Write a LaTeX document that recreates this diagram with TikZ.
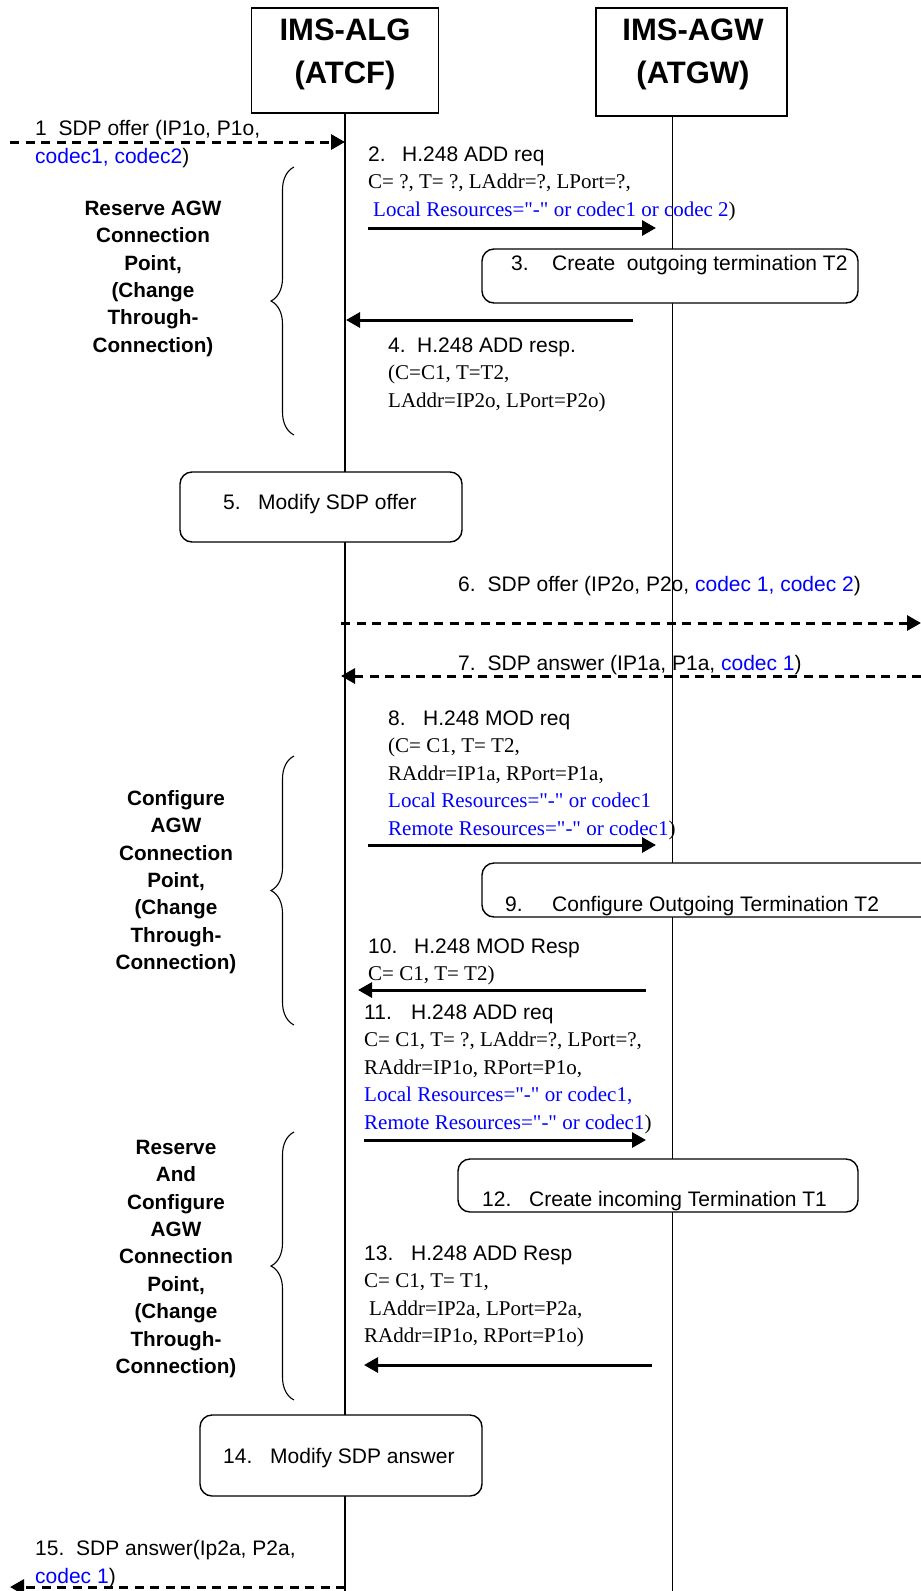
\documentclass[tikz,border=0pt]{standalone}
\usepackage{fontspec}
\setmainfont{Liberation Serif}[Ligatures=TeXOff]
\setsansfont{Liberation Sans}
\usetikzlibrary{arrows.meta,decorations.pathreplacing}

\newcommand{\msgno}[2][34pt]{\makebox[#1][l]{#2}}

\begin{document}
\begin{tikzpicture}[x=1pt, y=-1pt,
  life/.style={line width=1.1pt},
  hdr/.style={draw, line width=1.2pt, inner sep=0pt},
  hdrtext/.style={font=\sffamily\bfseries\fontsize{31}{43}\selectfont, align=center, inner sep=0pt, anchor=north},
  proc/.style={draw, line width=1.4pt, rounded corners=12pt, fill=white},
  msg/.style={font=\rmfamily\fontsize{21}{27.5}\selectfont, align=left, inner sep=0pt, anchor=north west},
  sig/.style={font=\sffamily\fontsize{21}{27.5}\selectfont, inner sep=0pt, anchor=base west},
  note/.style={font=\sffamily\bfseries\fontsize{20.7}{27.4}\selectfont, align=center, inner sep=0pt, anchor=north},
  req/.style={line width=3pt, -{Triangle[length=14pt,width=15pt]}},
  sdp/.style={req, dash pattern=on 9pt off 6.5pt},
  grp/.style={decorate, decoration={brace, amplitude=23pt}, line width=1.1pt}]
  \useasboundingbox (0,0) rectangle (921,1591);

  % Entities
  \node[hdr, minimum width=187pt, minimum height=105pt] (alg) at (345,60.5) {};
  \node[hdrtext] (algname) at (345,10) {\strut IMS-ALG\\(ATCF)};
  \node[hdr, minimum width=191pt, minimum height=108pt] (agw) at (691.5,62) {};
  \node[hdrtext] (agwname) at (693,10) {\strut IMS-AGW\\(ATGW)};

  % Lifelines
  \coordinate (algend) at (345,1591);
  \coordinate (agwend) at (672.5,1591);
  \draw[life] (alg.south) -- (algend);
  \draw[life] (agw.south -| agwend) -- (agwend);

  % Braces and their notes
  \coordinate (g1top) at (294,167);
  \coordinate (g1bot) at (294,435);
  \draw[grp] (g1bot) -- (g1top);
  \node[note] (g1txt) at (153,196) {\strut Reserve AGW\\Connection\\Point,\\(Change\\Through-\\Connection)};

  \coordinate (g2top) at (294,756);
  \coordinate (g2bot) at (294,1025);
  \draw[grp] (g2bot) -- (g2top);
  \node[note] (g2txt) at (176,786) {\strut Configure\\AGW\\Connection\\Point,\\(Change\\Through-\\Connection)};

  \coordinate (g3top) at (294,1132);
  \coordinate (g3bot) at (294,1400);
  \draw[grp] (g3bot) -- (g3top);
  \node[note] (g3txt) at (176,1135) {\strut Reserve\\And\\Configure\\AGW\\Connection\\Point,\\(Change\\Through-\\Connection)};

  % 1 SDP offer in
  \node[msg, font=\sffamily\fontsize{21}{28}\selectfont] (offer1) at (35,116) {\strut 1\ \ SDP offer (IP1o, P1o,\\\textcolor{blue}{codec1, codec2})};
  \coordinate (m1a) at (10,142);
  \coordinate (m1b) at (345,142);
  \draw[sdp] (m1a) -- (m1b);

  % 2 ADD req
  \node[msg] (addreq) at (368,142) {\strut{\sffamily\msgno[34pt]{2.}H.248 ADD req}\\
    C= ?, T= ?, LAddr=?, LPort=?,\\
    \hspace*{5pt}\textcolor{blue}{Local Resources="-" or codec1 or codec 2})};
  \coordinate (m2a) at (368,228);
  \coordinate (m2b) at (656,228);
  \draw[req] (m2a) -- (m2b);

  % 3 create outgoing termination
  \node[proc, minimum width=376pt, minimum height=54pt] (crt2) at (670,276) {};
  \node[sig] (crt2txt) at (511,270.5) {\msgno[41pt]{3.}Create\ \ outgoing termination T2};

  % 4 ADD resp
  \coordinate (m4a) at (633,320);
  \coordinate (m4b) at (346,320);
  \draw[req] (m4a) -- (m4b);
  \node[msg] (addresp) at (388,333) {\strut{\sffamily\msgno[29pt]{4.}H.248 ADD resp.}\\
    (C=C1, T=T2,\\
    LAddr=IP2o, LPort=P2o)};

  % 5 modify offer
  \node[proc, minimum width=282pt, minimum height=70pt] (modoffer) at (321,507) {};
  \node[sig] (modoffertxt) at (223,509.5) {\msgno[35pt]{5.}Modify SDP offer};

  % 6 SDP offer out
  \node[sig] (offer2) at (458,591.5) {\msgno[29.5pt]{6.}SDP offer (IP2o, P2o, \textcolor{blue}{codec 1, codec 2})};
  \coordinate (m6a) at (341,623);
  \coordinate (m6b) at (921,623);
  \draw[sdp] (m6a) -- (m6b);

  % 7 SDP answer in
  \node[sig] (answer1) at (458,670.5) {\msgno[29.5pt]{7.}SDP answer (IP1a, P1a, \textcolor{blue}{codec 1})};
  \coordinate (m7a) at (921,676);
  \coordinate (m7b) at (341,676);
  \draw[sdp] (m7a) -- (m7b);

  % 8 MOD req
  \node[msg] (modreq) at (388,706) {\strut{\sffamily\msgno[35pt]{8.}H.248 MOD req}\\
    (C= C1, T= T2,\\
    RAddr=IP1a, RPort=P1a,\\
    \textcolor{blue}{Local Resources="-" or codec1}\\
    \textcolor{blue}{Remote Resources="-" or codec1})};
  \coordinate (m8a) at (368,845);
  \coordinate (m8b) at (656,845);
  \draw[req] (m8a) -- (m8b);

  % 9 configure outgoing termination
  \node[proc, minimum width=453pt, minimum height=54pt] (cfg2) at (708.5,890) {};
  \node[sig] (cfg2txt) at (505,911.5) {\msgno[47pt]{9.}Configure Outgoing Termination T2};

  % 10 MOD resp
  \node[msg] (modresp) at (368,934) {\strut{\sffamily\msgno[46pt]{10.}H.248 MOD Resp}\\
    C= C1, T= T2)};
  \coordinate (m10a) at (646,990);
  \coordinate (m10b) at (358,990);
  \draw[req] (m10a) -- (m10b);

  % 11 ADD req
  \node[msg] (addreq2) at (364,1000) {\strut{\sffamily\msgno[47pt]{11.}H.248 ADD req}\\
    C= C1, T= ?, LAddr=?, LPort=?,\\
    RAddr=IP1o, RPort=P1o,\\
    \textcolor{blue}{Local Resources="-" or codec1,}\\
    \textcolor{blue}{Remote Resources="-" or codec1})};
  \coordinate (m11a) at (364,1140);
  \coordinate (m11b) at (646,1140);
  \draw[req] (m11a) -- (m11b);

  % 12 create incoming termination
  \node[proc, minimum width=400pt, minimum height=53pt] (crt1) at (658,1185.5) {};
  \node[sig] (crt1txt) at (482,1206.5) {\msgno[47pt]{12.}Create incoming Termination T1};

  % 13 ADD resp
  \node[msg] (addresp2) at (364,1241) {\strut{\sffamily\msgno[47pt]{13.}H.248 ADD Resp}\\
    C= C1, T= T1,\\
    \hspace*{5pt}LAddr=IP2a, LPort=P2a,\\
    RAddr=IP1o, RPort=P1o)};
  \coordinate (m13a) at (652,1365);
  \coordinate (m13b) at (364,1365);
  \draw[req] (m13a) -- (m13b);

  % 14 modify answer
  \node[proc, minimum width=282pt, minimum height=81pt] (modanswer) at (341,1455.5) {};
  \node[sig] (modanswertxt) at (223,1463.5) {\msgno[47pt]{14.}Modify SDP answer};

  % 15 SDP answer out
  \node[msg, font=\sffamily\fontsize{21}{28}\selectfont] (answer2) at (35,1536) {\strut\msgno[41pt]{15.}SDP answer(Ip2a, P2a,\\\textcolor{blue}{codec 1})};
  \coordinate (m15a) at (345,1587);
  \coordinate (m15b) at (10,1587);
  \draw[sdp] (m15a) -- (m15b);
\end{tikzpicture}
\end{document}
